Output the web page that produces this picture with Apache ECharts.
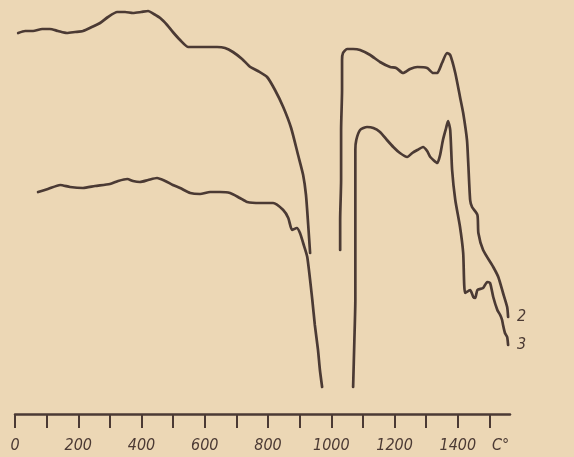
<!DOCTYPE html>
<html>
<head>
<meta charset="utf-8">
<script src="https://cdn.jsdelivr.net/npm/echarts@6/dist/echarts.min.js"></script>
<style>
html,body{margin:0;padding:0;background:#ecd7b5;}
#chart{width:574px;height:457px;}
</style>
</head>
<body>
<div id="chart"></div>
<script>
// Temperature axis (°C) tick values and labels
const tickValues = [0,100,200,300,400,500,600,700,800,900,1000,1100,1200,1300,1400,1500];
const labelValues = [0,200,400,600,800,1000,1200,1400];
const unitLabel = 'C°';
const unitLabelPos = 1535;

// Curve 2 (upper), relative units, two segments
const curve2a = [[10,381],[32,383],[57,383],[86,385],[110,385],[136,383],[164,381],[190,382],[215,383],[243,387],[269,391],[294,397],[323,402],[348,402],[373,401],[399,402],[421,403],[439,400],[459,396],[481,389],[499,382],[522,374],[548,367],[585,367],[639,367],[664,366],[689,362],[718,355],[744,347],[768,343],[797,337],[822,324],[848,307],[873,286],[895,259],[911,239],[920,219],[927,189],[933,161]];
const curve2b = [[1028,164],[1028,194],[1031,234],[1031,284],[1034,324],[1034,354],[1037,361],[1050,365],[1069,365],[1091,364],[1123,359],[1154,352],[1186,347],[1205,346],[1227,341],[1249,345],[1272,347],[1303,346],[1322,341],[1335,341],[1350,351],[1366,361],[1376,359],[1392,341],[1407,317],[1417,301],[1429,274],[1433,251],[1439,214],[1445,207],[1462,199],[1465,181],[1480,164],[1512,147],[1528,137],[1543,121],[1556,107],[1559,97]];

// Curve 3 (lower), relative units, two segments
const curve3a = [[73,222],[104,225],[143,229],[174,227],[215,226],[253,228],[300,230],[326,233],[355,235],[373,233],[395,232],[421,234],[449,236],[475,233],[499,229],[522,226],[554,221],[585,220],[617,222],[648,222],[680,221],[711,216],[734,212],[775,211],[816,211],[848,204],[864,196],[876,184],[891,186],[901,181],[911,171],[924,157],[940,114],[948,89],[958,64],[964,44],[971,27]];
const curve3b = [[1069,27],[1073,74],[1076,114],[1076,164],[1076,214],[1076,264],[1079,274],[1091,284],[1113,287],[1133,286],[1154,282],[1176,274],[1196,267],[1217,261],[1240,257],[1256,261],[1272,264],[1290,267],[1303,263],[1313,257],[1335,251],[1344,259],[1353,274],[1363,286],[1369,293],[1376,284],[1382,244],[1392,214],[1407,187],[1417,161],[1423,121],[1439,124],[1449,117],[1455,116],[1462,124],[1480,126],[1493,132],[1502,131],[1512,117],[1525,104],[1534,99],[1540,94],[1543,89],[1549,81],[1556,77],[1559,69]];

const curveNames = ['2','3'];

const ink = '#4b3a34';
const font = "'DejaVu Sans Condensed','DejaVu Sans',sans-serif";

function seg(data, label) {
  const s = {
    type: 'line',
    data: data,
    showSymbol: false,
    smooth: 0.2,
    lineStyle: {color: ink, width: 2.7, cap: 'round', join: 'round'},
    silent: true,
    animation: false
  };
  if (label) {
    s.endLabel = {
      show: true,
      formatter: label,
      distance: 9,
      color: ink,
      fontFamily: font,
      fontStyle: 'italic',
      fontSize: 16
    };
  }
  return s;
}

const chart = echarts.init(document.getElementById('chart'), null, {renderer: 'canvas'});
chart.setOption({
  backgroundColor: '#ecd7b5',
  animation: false,
  grid: {left: 15, right: 64, top: 0, bottom: 43, containLabel: false},
  xAxis: {
    type: 'value',
    min: 0,
    max: 1565,
    splitLine: {show: false},
    axisLine: {show: true, lineStyle: {color: ink, width: 2.5}},
    axisTick: {show: true, customValues: tickValues, length: 14, inside: false, lineStyle: {color: ink, width: 2}},
    axisLabel: {
      show: true,
      customValues: labelValues.concat([unitLabelPos]),
      formatter: function (v) { return v === unitLabelPos ? unitLabel : String(v); },
      margin: 24,
      color: ink,
      fontFamily: font,
      fontStyle: 'italic',
      fontSize: 16
    }
  },
  yAxis: {
    type: 'value',
    min: 0,
    max: 414,
    show: false
  },
  series: [
    seg(curve2a),
    seg(curve2b, curveNames[0]),
    seg(curve3a),
    seg(curve3b, curveNames[1])
  ]
});
</script>
</body>
</html>
